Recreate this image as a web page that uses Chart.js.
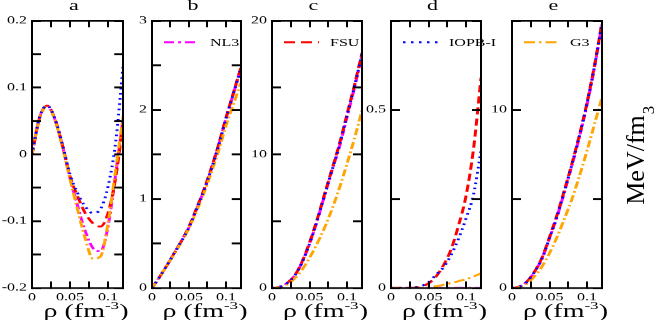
<!DOCTYPE html>
<html>
<head>
<meta charset="utf-8">
<script src="https://cdn.jsdelivr.net/npm/chart.js@4.4.1/dist/chart.umd.min.js"></script>
<style>
  html, body { margin: 0; padding: 0; background: #fff; }
  body { width: 654px; height: 327px; overflow: hidden; position: relative; font-family: 'Liberation Serif', serif; color: #000; }
  /* the original figure is squashed vertically, so draw tall and squeeze */
  #stage { position: absolute; left: 0; top: 0; width: 654px; height: 503px; transform: scaleY(0.65); transform-origin: 0 0; }
  #stage canvas { position: absolute; top: 0; }
  .letter { position: absolute; top: -2px; font-size: 22px; line-height: 1; transform: translateX(-50%); }
  .xtitle { position: absolute; top: 464px; font-size: 28px; line-height: 1; white-space: nowrap; transform: translateX(-50%); }
  .xtitle sup { font-size: 17px; vertical-align: 0; position: relative; top: -12px; }
  .legend { position: absolute; top: 55px; height: 20px; display: flex; align-items: center; white-space: nowrap; font-size: 16px; line-height: 1; }
  .legend svg { display: block; margin-right: 11px; }
  #ylab { position: absolute; left: 636px; top: 160px; font-size: 26px; line-height: 1; white-space: nowrap; transform: translate(-50%, -50%) rotate(-90deg); }
  #ylab3 { position: absolute; left: 648px; top: 110px; font-size: 17px; line-height: 1; transform: translate(-50%, -50%) rotate(-90deg); }
</style>
</head>
<body>
<div id="stage"></div>
<div id="ylab">MeV/fm</div>
<div id="ylab3">3</div>
<script>
// density grid (fm^-3)
const rho = [0, 0.01, 0.02, 0.03, 0.04, 0.05, 0.06, 0.07, 0.08, 0.09, 0.10, 0.11, 0.12];

const panelNames = ['a', 'b', 'c', 'd', 'e'];
const modelNames = ['NL3', 'FSU', 'IOPB-I', 'G3'];
const legendModel = [null, 'NL3', 'FSU', 'IOPB-I', 'G3'];

// axis ranges and tick labels
const yMin = [-0.2, 0, 0, 0, 0];
const yMax = [0.2, 3, 20, 0.75, 15];
const yStep = [0.05, 0.5, 5, 0.25, 5];
const yLabelStep = [0.1, 1, 10, 0.5, 10];
const xMax = 0.12;
const xTickStep = 0.025;
const xLabelStep = 0.05;

// panel a
const aNL3  = [0.0, 0.055, 0.073, 0.053, 0.013, -0.035, -0.077, -0.115, -0.140, -0.145, -0.108, -0.030, 0.055];
const aFSU  = [0.0, 0.055, 0.073, 0.053, 0.014, -0.033, -0.063, -0.088, -0.103, -0.108, -0.088, -0.035, 0.048];
const aIOPB = [0.0, 0.056, 0.073, 0.054, 0.015, -0.030, -0.058, -0.078, -0.088, -0.082, -0.048, 0.018, 0.135];
const aG3   = [0.0, 0.054, 0.073, 0.052, 0.011, -0.037, -0.083, -0.126, -0.156, -0.153, -0.103, -0.023, 0.058];
// panel b
const bNL3  = [0, 0.12, 0.25, 0.39, 0.53, 0.68, 0.88, 1.09, 1.33, 1.60, 1.90, 2.18, 2.46];
const bFSU  = [0, 0.12, 0.25, 0.39, 0.53, 0.69, 0.89, 1.10, 1.34, 1.61, 1.91, 2.19, 2.47];
const bIOPB = [0, 0.12, 0.25, 0.39, 0.53, 0.68, 0.88, 1.09, 1.33, 1.60, 1.90, 2.18, 2.46];
const bG3   = [0, 0.12, 0.25, 0.38, 0.52, 0.67, 0.86, 1.06, 1.29, 1.54, 1.82, 2.06, 2.30];
// panel c
const cNL3  = [0, 0.08, 0.35, 0.90, 1.90, 3.30, 5.00, 6.90, 8.80, 10.6, 12.8, 15.0, 17.4];
const cFSU  = [0, 0.08, 0.36, 0.92, 1.95, 3.40, 5.10, 7.00, 8.90, 10.8, 13.0, 15.2, 17.6];
const cIOPB = [0, 0.08, 0.35, 0.90, 1.90, 3.30, 5.00, 6.90, 8.80, 10.7, 12.9, 15.1, 17.5];
const cG3   = [0, 0.05, 0.25, 0.70, 1.35, 2.25, 3.30, 4.50, 5.90, 7.50, 9.30, 11.2, 13.3];
// panel d
const dNL3  = [0, 0, 0, 0, 0, 0, 0, 0, 0, 0, 0, 0, 0];
const dFSU  = [0, 0, 0, 0.001, 0.004, 0.013, 0.032, 0.064, 0.108, 0.175, 0.258, 0.39, 0.59];
const dIOPB = [0, 0, 0, 0.001, 0.005, 0.016, 0.037, 0.058, 0.092, 0.138, 0.195, 0.262, 0.385];
const dG3   = [0, 0, 0, 0, 0, 0.002, 0.005, 0.009, 0.014, 0.019, 0.025, 0.032, 0.041];
// panel e
const eNL3  = [0, 0.08, 0.35, 0.90, 1.65, 2.80, 4.00, 5.40, 6.90, 8.50, 10.3, 12.4, 14.8];
const eFSU  = [0, 0.08, 0.36, 0.92, 1.70, 2.85, 4.10, 5.50, 7.00, 8.60, 10.4, 12.5, 14.9];
const eIOPB = [0, 0.08, 0.35, 0.90, 1.65, 2.80, 4.00, 5.45, 6.95, 8.55, 10.35, 12.45, 14.85];
const eG3   = [0, 0.05, 0.25, 0.65, 1.20, 1.95, 2.85, 3.90, 5.00, 6.30, 7.70, 9.20, 10.7];

const panelData = [
  [aNL3, aFSU, aIOPB, aG3],
  [bNL3, bFSU, bIOPB, bG3],
  [cNL3, cFSU, cIOPB, cG3],
  [dNL3, dFSU, dIOPB, dG3],
  [eNL3, eFSU, eIOPB, eG3]
];

const modelStyle = {
  'NL3':    { color: '#ff00ff', dash: [10, 4, 3, 4], order: 3 },
  'FSU':    { color: '#ff0000', dash: [11, 6], order: 2 },
  'IOPB-I': { color: '#0000ff', dash: [2.5, 5.5], order: 0 },
  'G3':     { color: '#ffa500', dash: [11, 4, 2.5, 4], order: 1 }
};

// layout in stage pixels (stage is squeezed vertically by 0.65)
const plotLeft = [32, 152, 272, 391, 512];
const plotWidth = [100, 98, 99, 99, 99];
const plotTop = 32;
const plotBottom = 443;
const stageH = 503;
const axisW = 30;
const rightW = 3;

Chart.defaults.font.family = "'Liberation Serif', serif";
Chart.defaults.color = '#000';

const tickFont = { family: "'Liberation Serif', serif", size: 16 };
const onStep = (v, s) => Math.abs(v / s - Math.round(v / s)) < 1e-6;
const fmt = v => String(Number(v.toFixed(3)));

function xScale(pos) {
  return {
    type: 'linear', axis: 'x', position: pos, min: 0, max: xMax,
    afterFit: s => { s.height = pos === 'bottom' ? stageH - plotBottom : plotTop; },
    ticks: {
      stepSize: xTickStep, includeBounds: false, autoSkip: false, maxRotation: 0,
      padding: 15, color: '#000', font: tickFont,
      callback: v => (pos === 'bottom' && onStep(v, xLabelStep)) ? fmt(v) : ''
    },
    grid: { drawOnChartArea: false, drawTicks: true, tickLength: -10, color: '#000', lineWidth: 2, z: 1 },
    border: { display: true, color: '#000', width: 2.5, z: 1 }
  };
}

function yScale(p, pos) {
  return {
    type: 'linear', axis: 'y', position: pos, min: yMin[p], max: yMax[p],
    afterFit: s => { s.width = pos === 'left' ? axisW : rightW; },
    ticks: {
      stepSize: yStep[p], includeBounds: false, autoSkip: false,
      padding: 14, color: '#000', font: tickFont,
      callback: v => (pos === 'left' && onStep(v, yLabelStep[p])) ? fmt(v) : ''
    },
    grid: { drawOnChartArea: false, drawTicks: true, tickLength: -9, color: '#000', lineWidth: 3, z: 1 },
    border: { display: true, color: '#000', width: 2, z: 1 }
  };
}

const stage = document.getElementById('stage');

function addLegend(chart, p) {
  const items = Chart.defaults.plugins.legend.labels.generateLabels(chart)
    .filter(item => item.text === legendModel[p]);
  items.forEach(item => {
    const box = document.createElement('div');
    box.className = 'legend';
    box.style.left = (plotLeft[p] + 12) + 'px';
    const dash = (item.lineDash || []).join(' ');
    box.innerHTML =
      '<svg width="35" height="8"><line x1="0" y1="4" x2="35" y2="4" stroke="' + item.strokeStyle +
      '" stroke-width="' + item.lineWidth + '" stroke-dasharray="' + dash + '"/></svg>' +
      '<span>' + item.text + '</span>';
    stage.appendChild(box);
  });
}

panelNames.forEach((name, p) => {
  const cv = document.createElement('canvas');
  cv.width = plotWidth[p] + axisW + rightW;
  cv.height = stageH;
  cv.style.left = (plotLeft[p] - axisW) + 'px';
  cv.style.width = cv.width + 'px';
  cv.style.height = stageH + 'px';
  stage.appendChild(cv);

  const cx = plotLeft[p] + plotWidth[p] / 2;
  const letter = document.createElement('div');
  letter.className = 'letter';
  letter.style.left = (cx - 8) + 'px';
  letter.textContent = name;
  stage.appendChild(letter);

  const xt = document.createElement('div');
  xt.className = 'xtitle';
  xt.style.left = (cx + 4) + 'px';
  xt.innerHTML = 'ρ (fm<sup>-3</sup>)';
  stage.appendChild(xt);

  const chart = new Chart(cv, {
    type: 'line',
    data: {
      datasets: modelNames.map((m, k) => ({
        label: m,
        data: rho.map((r, i) => ({ x: r, y: panelData[p][k][i] })),
        borderColor: modelStyle[m].color,
        backgroundColor: modelStyle[m].color,
        borderDash: modelStyle[m].dash,
        borderWidth: 3,
        pointRadius: 0,
        fill: false,
        cubicInterpolationMode: 'monotone',
        order: modelStyle[m].order
      }))
    },
    options: {
      responsive: false,
      maintainAspectRatio: false,
      animation: false,
      events: [],
      layout: { padding: 0, autoPadding: false },
      scales: {
        x: xScale('bottom'),
        x2: xScale('top'),
        y: yScale(p, 'left'),
        y2: yScale(p, 'right')
      },
      plugins: {
        tooltip: { enabled: false },
        legend: { display: false }
      }
    }
  });

  if (legendModel[p]) addLegend(chart, p);
});
</script>
</body>
</html>
